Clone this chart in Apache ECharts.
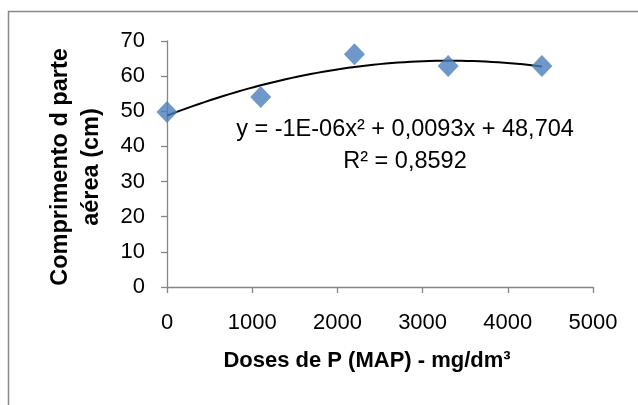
<!DOCTYPE html>
<html><head><meta charset="utf-8">
<script src="https://cdn.jsdelivr.net/npm/echarts@6/dist/echarts.min.js"></script>
<style>html,body{margin:0;padding:0;background:#fff}#c{width:638px;height:405px}</style>
</head><body><div id="c"></div>
<script>
var doses = [0, 1100, 2200, 3300, 4400];
var comprimento = [49.8, 54.1, 66.2, 62.9, 62.9];
var xTicks = [0, 1000, 2000, 3000, 4000, 5000];
var yTicks = [0, 10, 20, 30, 40, 50, 60, 70];
var equationText = 'y = -1E-06x² + 0,0093x + 48,704';
var r2Text = 'R² = 0,8592';
var xTitle = 'Doses de P (MAP) - mg/dm³';
var yTitle = 'Comprimento d parte\naérea (cm)';

// polynomial (order 2) least-squares trendline from the data, as Excel does
function fitQuad(xs, ys) {
  var n = xs.length, S = [0,0,0,0,0], T = [0,0,0];
  for (var i = 0; i < n; i++) {
    var p = 1;
    for (var k = 0; k < 5; k++) { S[k] += p; if (k < 3) T[k] += p * ys[i]; p *= xs[i]; }
  }
  var M = [[S[0],S[1],S[2],T[0]],[S[1],S[2],S[3],T[1]],[S[2],S[3],S[4],T[2]]];
  for (var c = 0; c < 3; c++) {
    for (var r = c + 1; r < 3; r++) {
      var f = M[r][c] / M[c][c];
      for (var j = c; j < 4; j++) M[r][j] -= f * M[c][j];
    }
  }
  var b = [0,0,0];
  for (var r2 = 2; r2 >= 0; r2--) {
    var s = M[r2][3];
    for (var j2 = r2 + 1; j2 < 3; j2++) s -= M[r2][j2] * b[j2];
    b[r2] = s / M[r2][r2];
  }
  return b;
}
var coef = fitQuad(doses, comprimento);
var trend = [];
var xMin = doses[0], xMax = doses[doses.length - 1];
for (var t = 0; t <= 60; t++) {
  var xv = xMin + (xMax - xMin) * t / 60;
  trend.push([xv, coef[0] + coef[1] * xv + coef[2] * xv * xv]);
}

var chart = echarts.init(document.getElementById('c'), null, {renderer: 'canvas'});
var font = 'Liberation Sans, Arial, sans-serif';
chart.setOption({
  animation: false,
  grid: {left: 167, right: 45, top: 41, bottom: 118},
  xAxis: {
    type: 'value', min: xTicks[0], max: xTicks[xTicks.length - 1], interval: 1000,
    axisLine: {lineStyle: {color: '#868686', width: 1.3}},
    axisTick: {show: true, length: 6, lineStyle: {color: '#868686', width: 1.3}},
    axisLabel: {color: '#000', fontFamily: font, fontSize: 22, margin: 25, formatter: function (v) { return String(v); }},
    splitLine: {show: false}
  },
  yAxis: {
    type: 'value', min: yTicks[0], max: yTicks[yTicks.length - 1], interval: 10,
    axisLine: {show: true, lineStyle: {color: '#868686', width: 1.3}},
    axisTick: {show: true, length: 6, lineStyle: {color: '#868686', width: 1.3}},
    axisLabel: {color: '#000', fontFamily: font, fontSize: 22, margin: 22, formatter: function (v) { return String(v); }},
    splitLine: {show: false}
  },
  series: [
    {
      type: 'line', data: trend, showSymbol: false, symbol: 'none',
      lineStyle: {color: '#000', width: 2}, z: 2, silent: true
    },
    {
      type: 'scatter', data: doses.map(function (d, i) { return [d, comprimento[i]]; }),
      symbol: 'diamond', symbolSize: [21, 22],
      itemStyle: {color: '#4A7EBB'}, z: 3
    }
  ],
  graphic: [
    {type: 'line', shape: {x1: 8.5, y1: 11, x2: 8.5, y2: 405}, style: {stroke: '#888', lineWidth: 1.5}},
    {type: 'line', shape: {x1: 8, y1: 11.5, x2: 638, y2: 11.5}, style: {stroke: '#888', lineWidth: 1.5}},
    {type: 'text', x: 405, y: 130, style: {text: equationText, font: '23.5px ' + font, fill: '#000', textAlign: 'center', textVerticalAlign: 'middle'}},
    {type: 'text', x: 405, y: 162, style: {text: r2Text, font: '23.5px ' + font, fill: '#000', textAlign: 'center', textVerticalAlign: 'middle'}},
    {type: 'text', x: 367, y: 361, style: {text: xTitle, font: 'bold 22px ' + font, fill: '#000', textAlign: 'center', textVerticalAlign: 'middle'}},
    {type: 'text', x: 76, y: 167, rotation: Math.PI / 2, style: {text: yTitle, font: 'bold 23.5px ' + font, lineHeight: 31, fill: '#000', textAlign: 'center', textVerticalAlign: 'middle'}}
  ]
});
</script></body></html>
